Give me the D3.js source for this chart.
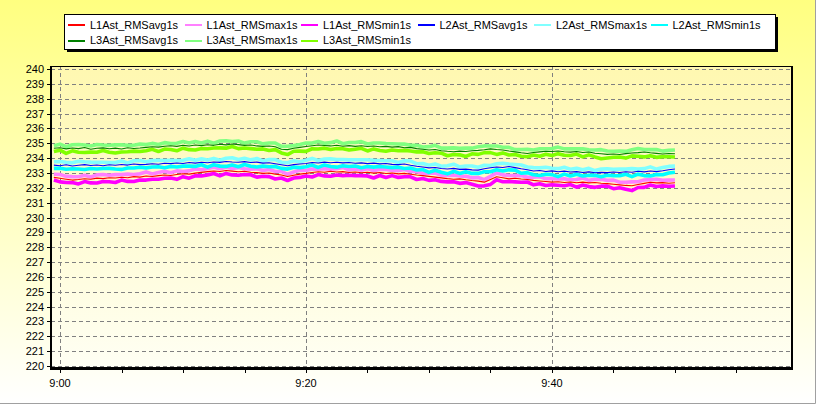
<!DOCTYPE html>
<html>
<head>
<meta charset="utf-8">
<script src="https://cdn.jsdelivr.net/npm/d3@7"></script>
<style>
  html, body { margin: 0; padding: 0; background: #fff; }
  svg { display: block; }
  text { font-family: "Liberation Sans", Arial, sans-serif; }
</style>
</head>
<body>
<svg id="chart" width="816" height="404"></svg>
<script>
// ---------------- DATA ----------------
const seriesNames = ["L1Ast_RMSavg1s","L1Ast_RMSmax1s","L1Ast_RMSmin1s",
                     "L2Ast_RMSavg1s","L2Ast_RMSmax1s","L2Ast_RMSmin1s",
                     "L3Ast_RMSavg1s","L3Ast_RMSmax1s","L3Ast_RMSmin1s"];
const seriesColors = ["#FF0000","#FF80FF","#FF00FF",
                      "#0000FF","#80FFFF","#00FFFF",
                      "#008000","#80FF80","#80FF00"];
// samples every 30 s starting 8:59:30
const startTime = new Date(2024, 0, 1, 8, 59, 30);
const stepSeconds = 30;

const L1avg = [
232.70,232.64,232.58,232.52,232.56,232.61,232.58,232.65,232.62,232.68,
232.66,232.71,232.68,232.75,232.72,232.79,232.76,232.82,232.86,232.83,
232.90,232.95,232.92,232.99,233.04,233.09,233.13,233.10,233.16,233.12,
233.08,233.11,233.05,233.02,232.97,233.00,232.92,232.86,232.76,232.84,
232.92,232.97,233.03,233.08,233.05,233.11,233.06,233.09,233.03,233.06,
233.01,233.05,232.99,233.03,232.96,233.00,232.94,232.97,232.91,232.86,
232.82,232.77,232.72,232.67,232.62,232.58,232.60,232.54,232.49,232.45,
232.38,232.56,232.74,232.68,232.60,232.64,232.59,232.56,232.50,232.46,
232.42,232.38,232.41,232.36,232.39,232.34,232.38,232.33,232.36,232.31,
232.28,232.24,232.20,232.16,232.14,232.22,232.30,232.37,232.33,232.35,
232.31,232.34];
const L1max = [
232.91,232.90,232.77,232.75,232.74,232.85,232.73,232.87,232.90,232.85,
232.89,232.89,232.92,232.90,232.94,233.07,232.93,233.03,233.12,233.02,
233.14,233.10,233.14,233.27,233.21,233.30,233.39,233.29,233.39,233.30,
233.36,233.28,233.26,233.28,233.16,233.23,233.10,233.10,232.91,233.06,
233.18,233.16,233.26,233.26,233.29,233.26,233.28,233.37,233.20,233.27,
233.19,233.29,233.14,233.25,233.24,233.17,233.15,233.23,233.10,233.09,
232.97,232.99,233.00,232.84,232.83,232.84,232.79,232.77,232.67,232.69,
232.55,232.77,233.00,232.87,232.83,232.82,232.83,232.71,232.72,232.74,
232.61,232.61,232.59,232.60,232.54,232.56,232.66,232.50,232.57,232.57,
232.50,232.52,232.37,232.37,232.40,232.41,232.53,232.55,232.57,232.50,
232.52,232.53];
const L1min = [
232.52,232.40,232.36,232.35,232.26,232.42,232.33,232.32,232.42,232.41,
232.36,232.52,232.43,232.42,232.52,232.52,232.58,232.58,232.64,232.66,
232.57,232.75,232.65,232.81,232.80,232.87,232.96,232.80,232.97,232.87,
232.84,232.89,232.88,232.72,232.78,232.75,232.59,232.66,232.49,232.66,
232.70,232.80,232.73,232.89,232.80,232.78,232.86,232.82,232.85,232.82,
232.82,232.80,232.66,232.83,232.69,232.82,232.70,232.75,232.74,232.56,
232.62,232.50,232.54,232.43,232.40,232.41,232.30,232.35,232.24,232.12,
232.13,232.23,232.54,232.41,232.42,232.40,232.37,232.39,232.20,232.27,
232.15,232.20,232.17,232.14,232.22,232.04,232.19,232.08,232.03,232.11,
232.11,231.94,232.01,231.91,231.81,232.02,232.03,232.19,232.09,232.13,
232.10,232.12];

const L2avg = [
233.53,233.49,233.55,233.47,233.52,233.56,233.50,233.54,233.48,233.55,
233.52,233.57,233.53,233.60,233.56,233.58,233.62,233.59,233.65,233.63,
233.67,233.64,233.70,233.66,233.72,233.69,233.74,233.71,233.77,233.74,
233.72,233.76,233.70,233.73,233.66,233.69,233.62,233.55,233.48,233.56,
233.60,233.64,233.70,233.67,233.73,233.69,233.72,233.68,233.70,233.65,
233.68,233.63,233.66,233.61,233.64,233.58,233.56,233.60,233.52,233.45,
233.40,233.34,233.37,233.30,233.27,233.31,233.24,233.26,233.21,233.19,
233.28,233.35,233.40,233.37,233.43,233.36,233.28,233.21,233.13,233.16,
233.10,233.14,233.08,233.12,233.06,233.09,233.03,233.07,233.01,233.04,
233.02,233.06,233.03,233.08,233.05,233.11,233.07,233.13,233.09,233.15,
233.22,233.27];
const L2max = [
233.75,233.77,233.72,233.68,233.78,233.75,233.73,233.72,233.72,233.70,
233.70,233.81,233.68,233.82,233.84,233.75,233.83,233.85,233.84,233.86,
233.84,233.85,233.96,233.85,233.95,233.87,233.98,233.86,233.99,234.02,
233.91,233.99,233.88,233.97,233.81,233.91,233.90,233.72,233.69,233.82,
233.75,233.86,233.98,233.84,233.94,233.95,233.91,233.91,233.88,233.89,
233.89,233.89,233.85,233.84,233.82,233.82,233.71,233.82,233.80,233.62,
233.63,233.52,233.61,233.45,233.49,233.59,233.41,233.47,233.47,233.38,
233.52,233.50,233.62,233.65,233.60,233.57,233.54,233.40,233.36,233.34,
233.38,233.31,233.29,233.38,233.25,233.32,233.21,233.31,233.16,233.26,
233.28,233.25,233.26,233.26,233.29,233.26,233.29,233.41,233.26,233.36,
233.44,233.46];
const L2min = [
233.31,233.32,233.25,233.28,233.27,233.23,233.30,233.27,233.30,233.31,
233.27,233.24,233.33,233.33,233.38,233.34,233.40,233.42,233.35,233.44,
233.40,233.46,233.46,233.44,233.55,233.39,233.55,233.46,233.44,233.54,
233.42,233.57,233.45,233.40,233.46,233.42,233.44,233.31,233.26,233.39,
233.36,233.42,233.53,233.37,233.54,233.44,233.39,233.48,233.43,233.47,
233.35,233.43,233.39,233.43,233.40,233.36,233.39,233.30,233.33,233.20,
233.23,233.04,233.18,233.05,232.94,233.11,232.97,233.08,232.97,232.97,
233.08,233.08,233.22,233.13,233.21,233.19,232.98,233.02,232.88,232.83,
232.91,232.89,232.75,232.92,232.79,232.91,232.79,232.85,232.84,232.74,
232.84,232.82,232.81,232.91,232.75,232.92,232.82,232.80,232.89,232.88,
233.00,233.05];

const L3avg = [
234.66,234.70,234.62,234.68,234.64,234.71,234.60,234.66,234.69,234.63,
234.67,234.61,234.70,234.65,234.68,234.72,234.76,234.74,234.80,234.83,
234.79,234.86,234.82,234.88,234.84,234.90,234.86,234.93,234.89,234.95,
234.91,234.86,234.88,234.82,234.79,234.81,234.76,234.60,234.57,234.66,
234.72,234.78,234.83,234.88,234.85,234.82,234.87,234.80,234.84,234.79,
234.83,234.78,234.81,234.76,234.79,234.74,234.77,234.70,234.72,234.64,
234.60,234.55,234.58,234.50,234.46,234.43,234.47,234.44,234.49,234.52,
234.56,234.62,234.58,234.55,234.48,234.42,234.36,234.31,234.38,234.42,
234.46,234.44,234.48,234.43,234.40,234.44,234.38,234.41,234.33,234.29,
234.25,234.28,234.24,234.30,234.34,234.37,234.41,234.36,234.32,234.28,
234.31,234.29];
const L3max = [
234.84,234.94,234.77,234.90,234.92,234.88,234.81,234.92,234.88,234.86,
234.89,234.89,234.87,234.86,234.94,234.91,234.99,234.92,235.04,234.98,
235.00,235.12,235.01,235.11,235.02,235.14,235.01,235.15,235.17,235.12,
235.15,235.01,235.10,235.10,234.96,235.02,235.02,234.79,234.80,234.84,
234.91,235.01,235.01,235.12,235.00,235.04,235.15,234.97,235.05,235.05,
235.11,234.95,235.02,235.02,234.98,234.97,234.95,234.94,234.87,234.86,
234.75,234.77,234.86,234.67,234.67,234.69,234.66,234.67,234.67,234.76,
234.82,234.81,234.81,234.73,234.72,234.57,234.58,234.59,234.55,234.63,
234.63,234.65,234.74,234.62,234.63,234.62,234.62,234.56,234.55,234.57,
234.48,234.46,234.48,234.45,234.56,234.65,234.58,234.57,234.58,234.47,
234.52,234.55];
const L3min = [
234.44,234.53,234.32,234.49,234.39,234.38,234.40,234.39,234.51,234.39,
234.34,234.41,234.43,234.47,234.44,234.50,234.59,234.44,234.61,234.58,
234.49,234.67,234.57,234.55,234.64,234.63,234.68,234.69,234.67,234.78,
234.64,234.68,234.64,234.60,234.62,234.51,234.57,234.35,234.24,234.46,
234.47,234.45,234.63,234.61,234.67,234.58,234.65,234.63,234.54,234.60,
234.66,234.48,234.62,234.51,234.46,234.54,234.50,234.52,234.48,234.42,
234.42,234.31,234.36,234.33,234.16,234.24,234.22,234.11,234.29,234.25,
234.37,234.37,234.25,234.35,234.21,234.24,234.12,234.09,234.21,234.12,
234.26,234.17,234.30,234.19,234.18,234.27,234.08,234.22,234.08,233.96,
234.01,234.06,234.07,234.00,234.15,234.12,234.08,234.16,234.05,234.10,
234.09,234.07];

const yTickValues = [220,221,222,223,224,225,226,227,228,229,230,231,232,233,234,235,236,237,238,239,240];
const xTickLabels = ["9:00","9:20","9:40"];
const xTickTimes = [new Date(2024,0,1,9,0), new Date(2024,0,1,9,20), new Date(2024,0,1,9,40)];

// ---------------- DRAW ----------------
const seriesData = [L1avg, L1max, L1min, L2avg, L2max, L2min, L3avg, L3max, L3min];
const times = L1avg.map((_, i) => new Date(startTime.getTime() + i * stepSeconds * 1000));

const svg = d3.select("#chart");
const W = 816, H = 404;
const plot = {left: 51, right: 792, top: 66, bottom: 368};

const defs = svg.append("defs");
const bgGrad = defs.append("linearGradient").attr("id","bg").attr("x1",0).attr("y1",0).attr("x2",0).attr("y2",1);
bgGrad.append("stop").attr("offset","0%").attr("stop-color","#FFFF80");
bgGrad.append("stop").attr("offset","100%").attr("stop-color","#FFFFFF");
const plGrad = defs.append("linearGradient").attr("id","plotbg").attr("x1",0).attr("y1",0).attr("x2",0).attr("y2",1);
plGrad.append("stop").attr("offset","0%").attr("stop-color","#FFF8B0");
plGrad.append("stop").attr("offset","100%").attr("stop-color","#FFFFF4");

svg.append("rect").attr("x",0).attr("y",0).attr("width",W).attr("height",H).attr("fill","url(#bg)");
svg.append("path").attr("d",`M${W-0.5},0V${H-0.5}H0`).attr("fill","none").attr("stroke","#A0A0A0");

svg.append("rect").attr("x",plot.left).attr("y",plot.top)
  .attr("width",plot.right-plot.left).attr("height",plot.bottom-plot.top)
  .attr("fill","url(#plotbg)");

const x = d3.scaleTime()
  .domain([new Date(2024,0,1,8,59,16), new Date(2024,0,1,9,59,31)])
  .range([plot.left, plot.right]);
const y = d3.scaleLinear().domain([220,240]).range([366,69]);

// grid
const grid = svg.append("g").attr("shape-rendering","crispEdges")
  .attr("stroke","#808080").attr("stroke-dasharray","4,3").attr("stroke-width",1);
grid.selectAll("line.h").data(yTickValues).join("line").attr("class","h")
  .attr("x1",plot.left).attr("x2",plot.right)
  .attr("y1",d=>Math.round(y(d))+0.5).attr("y2",d=>Math.round(y(d))+0.5);
grid.selectAll("line.v").data(xTickTimes).join("line").attr("class","v")
  .attr("x1",d=>Math.round(x(d))+0.5).attr("x2",d=>Math.round(x(d))+0.5)
  .attr("y1",plot.top).attr("y2",plot.bottom);

// series: min/max first, averages on top
const line = d3.line().x((d,i)=>x(times[i])).y(d=>y(d));
const order = [1,2,4,5,7,8,0,3,6];
const lines = svg.append("g");
order.forEach(k => {
  const isAvg = (k % 3) === 0;
  lines.append("path").datum(seriesData[k])
    .attr("d", line)
    .attr("fill","none")
    .attr("stroke", seriesColors[k])
    .attr("stroke-width", isAvg ? 1.1 : 3.6)
    .attr("stroke-linejoin","round");
});

// frame
const frame = svg.append("g").attr("shape-rendering","crispEdges");
frame.append("line").attr("x1",plot.left).attr("x2",plot.right).attr("y1",plot.top+0.5).attr("y2",plot.top+0.5).attr("stroke","#000");
frame.append("line").attr("x1",plot.right).attr("x2",plot.right).attr("y1",plot.top).attr("y2",plot.bottom+1).attr("stroke","#000").attr("stroke-width",2);

// y axis
const yAxis = d3.axisLeft(y).tickValues(yTickValues).tickSize(4).tickPadding(3).tickFormat(d=>String(d));
const gy = svg.append("g").attr("transform",`translate(${plot.left},0)`).call(yAxis);
gy.select(".domain").remove();
gy.selectAll(".tick line").attr("stroke","#000").attr("shape-rendering","crispEdges");
gy.selectAll(".tick text").attr("font-size","11px").attr("fill","#000")
  .attr("font-family","'Liberation Sans', Arial, sans-serif");
svg.append("line").attr("x1",plot.left).attr("x2",plot.left).attr("y1",plot.top).attr("y2",plot.bottom+1)
  .attr("stroke","#000").attr("stroke-width",2).attr("shape-rendering","crispEdges");

// x axis: minor ticks every 5 min, labels at 20 min
const xAxis = d3.axisBottom(x).ticks(d3.timeMinute.every(5)).tickSize(5).tickFormat(() => "");
const gx = svg.append("g").attr("transform",`translate(0,${plot.bottom})`).call(xAxis);
gx.select(".domain").remove();
gx.selectAll(".tick line").attr("stroke","#000").attr("shape-rendering","crispEdges");
svg.append("line").attr("x1",plot.left-1).attr("x2",plot.right+1).attr("y1",plot.bottom).attr("y2",plot.bottom)
  .attr("stroke","#000").attr("stroke-width",3).attr("shape-rendering","crispEdges");
svg.append("g").selectAll("text").data(xTickTimes).join("text")
  .attr("x",d=>x(d)).attr("y",387)
  .attr("text-anchor","middle").attr("font-size","11px").attr("fill","#000")
  .text((d,i)=>xTickLabels[i]);

// legend
const lg = svg.append("g").attr("shape-rendering","crispEdges");
const lgBox = {x: 64, y: 14, w: 711, h: 35};
lg.append("rect").attr("x",lgBox.x+3).attr("y",lgBox.y+3).attr("width",lgBox.w).attr("height",lgBox.h).attr("fill","#000");
lg.append("rect").attr("x",lgBox.x+0.5).attr("y",lgBox.y+0.5).attr("width",lgBox.w).attr("height",lgBox.h)
  .attr("fill","#fff").attr("stroke","#000");
const colW = 116.5;
seriesNames.forEach((name, k) => {
  const col = k < 6 ? k : k - 6;
  const row = k < 6 ? 0 : 1;
  const cx = lgBox.x + col * colW;
  const cy = lgBox.y + 11 + row * 15.5;
  lg.append("line").attr("x1",cx+4).attr("x2",cx+21).attr("y1",cy).attr("y2",cy)
    .attr("stroke",seriesColors[k]).attr("stroke-width",2);
  lg.append("text").attr("x",cx+26).attr("y",cy).attr("dy","0.35em")
    .attr("font-size","11px").attr("fill","#000").text(name);
});
</script>
</body>
</html>
